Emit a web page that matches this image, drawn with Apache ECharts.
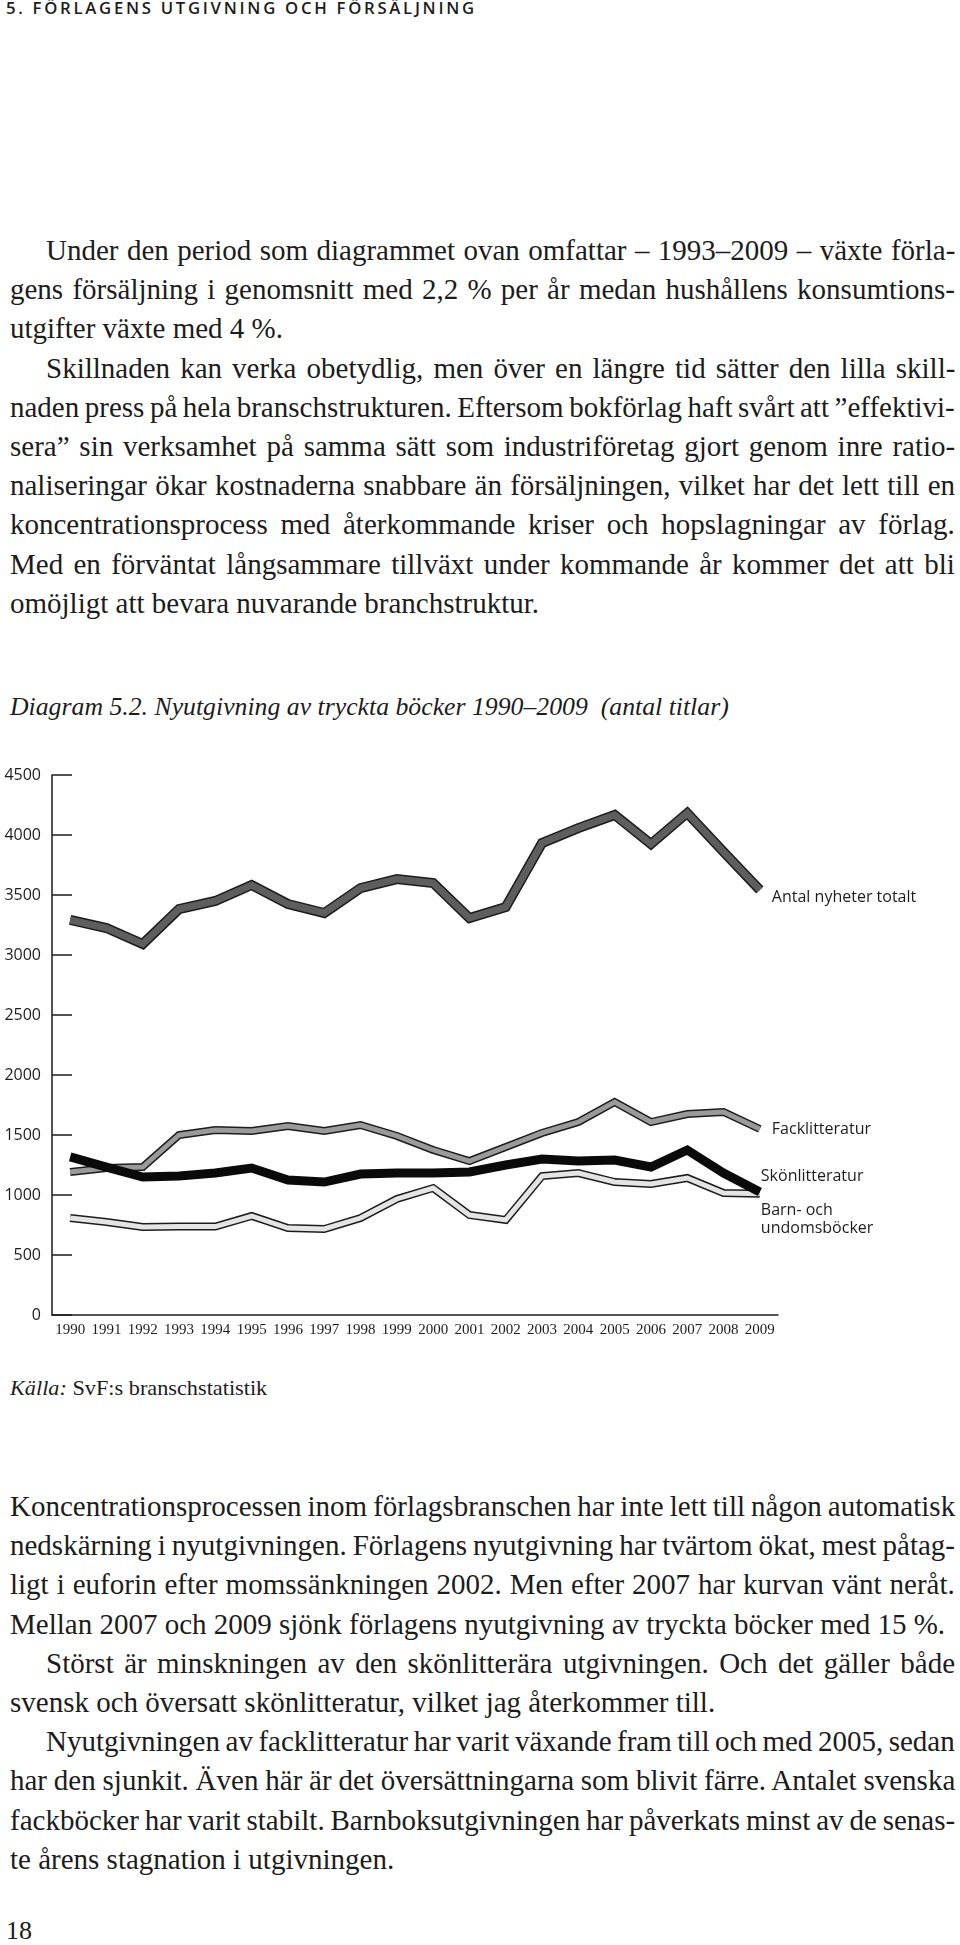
<!DOCTYPE html>
<html>
<head>
<meta charset="utf-8">
<script src="https://cdn.jsdelivr.net/npm/echarts@6/dist/echarts.min.js"></script>
<style>
body { margin: 0; background: #fff; width: 960px; height: 1945px; position: relative; overflow: hidden; font-family: 'Liberation Serif', serif; color: #1c1c1c; }
.ln { position: absolute; white-space: nowrap; font-size: 29px; line-height: 30px; display: inline-block; transform-origin: left top; }
#head { position: absolute; left: 6px; top: -3px; font-family: 'Open Sans', sans-serif; font-weight: 600; font-size: 16px; letter-spacing: 2.6px; white-space: nowrap; }
#cap { position: absolute; left: 10px; top: 692px; font-style: italic; font-size: 26px; white-space: nowrap; transform-origin: left top; }
#src { position: absolute; left: 10px; top: 1375px; font-size: 22px; white-space: nowrap; transform-origin: left top; }
#pg { position: absolute; left: 6px; top: 1916px; font-size: 26px; }
#chart { position: absolute; left: 0; top: 740px; width: 960px; height: 620px; }
</style>
</head>
<body>
<div id="head">5. FÖRLAGENS UTGIVNING OCH FÖRSÄLJNING</div>
<div id="cap">Diagram 5.2. Nyutgivning av tryckta böcker 1990–2009&nbsp; (antal titlar)</div>
<div id="chart"></div>
<div id="src"><i>Källa:</i> SvF:s branschstatistik</div>
<div id="pg">18</div>
<script>
var years = ['1990', '1991', '1992', '1993', '1994', '1995', '1996', '1997', '1998', '1999',
	'2000', '2001', '2002', '2003', '2004', '2005', '2006', '2007', '2008', '2009'];
var totalt = [3292, 3225, 3092, 3383, 3450, 3583, 3425, 3350, 3558, 3633, 3600, 3308, 3400, 3933, 4058, 4167, 3925, 4183, 3860, 3542];
var fack = [1192, 1225, 1233, 1500, 1542, 1533, 1575, 1533, 1583, 1492, 1375, 1283, 1400, 1517, 1608, 1775, 1608, 1675, 1692, 1550];
var skon = [1317, 1233, 1150, 1158, 1183, 1225, 1125, 1108, 1175, 1183, 1183, 1192, 1250, 1300, 1283, 1292, 1233, 1375, 1183, 1025];
var barn = [808, 775, 733, 737, 737, 825, 725, 717, 808, 967, 1058, 833, 792, 1158, 1183, 1108, 1092, 1142, 1017, 1010];
var yTicks = [0, 500, 1000, 1500, 2000, 2500, 3000, 3500, 4000, 4500];

// text lines: [text, indent, justify]
var topText = [
	['Under den period som diagrammet ovan omfattar – 1993–2009 – växte förla-', 1, 1],
	['gens försäljning i genomsnitt med 2,2 % per år medan hushållens konsumtions-', 0, 1],
	['utgifter växte med 4 %.', 0, 0],
	['Skillnaden kan verka obetydlig, men över en längre tid sätter den lilla skill-', 1, 1],
	['naden press på hela branschstrukturen. Eftersom bokförlag haft svårt att ”effektivi-', 0, 1],
	['sera” sin verksamhet på samma sätt som industriföretag gjort genom inre ratio-', 0, 1],
	['naliseringar ökar kostnaderna snabbare än försäljningen, vilket har det lett till en', 0, 1],
	['koncentrationsprocess med återkommande kriser och hopslagningar av förlag.', 0, 1],
	['Med en förväntat långsammare tillväxt under kommande år kommer det att bli', 0, 1],
	['omöjligt att bevara nuvarande branchstruktur.', 0, 0]
];
var bottomText = [
	['Koncentrationsprocessen inom förlagsbranschen har inte lett till någon automatisk', 0, 1],
	['nedskärning i nyutgivningen. Förlagens nyutgivning har tvärtom ökat, mest påtag-', 0, 1],
	['ligt i euforin efter momssänkningen 2002. Men efter 2007 har kurvan vänt neråt.', 0, 1],
	['Mellan 2007 och 2009 sjönk förlagens nyutgivning av tryckta böcker med 15 %.', 0, 0],
	['Störst är minskningen av den skönlitterära utgivningen. Och det gäller både', 1, 1],
	['svensk och översatt skönlitteratur, vilket jag återkommer till.', 0, 0],
	['Nyutgivningen av facklitteratur har varit växande fram till och med 2005, sedan', 1, 1],
	['har den sjunkit. Även här är det översättningarna som blivit färre. Antalet svenska', 0, 1],
	['fackböcker har varit stabilt. Barnboksutgivningen har påverkats minst av de senas-', 0, 1],
	['te årens stagnation i utgivningen.', 0, 0]
];

function putLines(lines, top, pitch) {
	for (var i = 0; i < lines.length; i++) {
		var d = document.createElement('div');
		d.className = 'ln';
		d.textContent = lines[i][0];
		var left = lines[i][1] ? 46 : 10;
		d.style.left = left + 'px';
		d.style.top = (top + i * pitch) + 'px';
		document.body.appendChild(d);
		var target = 955 - left;
		var w = d.offsetWidth;
		var n = lines[i][0].split(' ').length - 1;
		// spaces may shrink a little before the glyphs get squeezed
		var s = Math.min(1, target / (w - n * 2.5));
		if (s < 1) d.style.transform = 'scaleX(' + s + ')';
		if (lines[i][2] && n > 0) {
			d.style.wordSpacing = ((target / s - w) / n) + 'px';
		}
	}
}
putLines(topText, 235, 39.2);
putLines(bottomText, 1491, 39.2);

function fitWidth(id, target) {
	var el = document.getElementById(id);
	el.style.display = 'inline-block';
	el.style.transform = 'scaleX(' + (target / el.offsetWidth) + ')';
	el.style.transformOrigin = 'left top';
}
fitWidth('cap', 719);
fitWidth('src', 257);
fitWidth('head', 471);

var myChart = echarts.init(document.getElementById('chart'));

function outline(name, data, width, color, z) {
	return {
		name: name,
		type: 'line',
		data: data,
		symbol: 'none',
		silent: true,
		z: z,
		lineStyle: { width: width, color: color, join: 'miter', miterLimit: 6, cap: 'butt' }
	};
}

var labelFont = { fontFamily: 'Open Sans', fontSize: 16, color: '#1c1c1c' };

var s1 = outline('barn_kant', barn, 8, '#1c1c1c', 2);
var s2 = outline('Barn- och undomsböcker', barn, 5, '#e4e4e4', 3);
s2.endLabel = Object.assign({ show: true, formatter: 'Barn- och\nundomsböcker', distance: 0, offset: [1, 26], lineHeight: 18 }, labelFont);
var s3 = outline('fack_kant', fack, 8, '#1c1c1c', 4);
var s4 = outline('Facklitteratur', fack, 5, '#9a9a9a', 5);
s4.endLabel = Object.assign({ show: true, formatter: 'Facklitteratur', distance: 0, offset: [12, 0] }, labelFont);
var s5 = outline('Skönlitteratur', skon, 9, '#0a0a0a', 6);
s5.endLabel = Object.assign({ show: true, formatter: 'Skönlitteratur', distance: 0, offset: [1, -16] }, labelFont);
var s6 = outline('totalt_kant', totalt, 10, '#1c1c1c', 7);
var s7 = outline('Antal nyheter totalt', totalt, 7, '#5e5e5e', 8);
s7.endLabel = Object.assign({ show: true, formatter: 'Antal nyheter totalt', distance: 0, offset: [12, 7] }, labelFont);

option = {
	animation: false,
	grid: { left: 52, right: 182, top: 35, bottom: 45 },
	xAxis: {
		type: 'category',
		data: years,
		boundaryGap: true,
		axisLine: { lineStyle: { color: '#1c1c1c', width: 1.5 } },
		axisTick: { inside: true, length: 13, lineStyle: { color: '#1c1c1c', width: 1.5 } },
		axisLabel: { margin: 8, fontFamily: 'Liberation Sans Narrow', fontSize: 15, color: '#1c1c1c', interval: 0 }
	},
	yAxis: {
		type: 'value',
		min: yTicks[0],
		max: yTicks[yTicks.length - 1],
		interval: 500,
		splitLine: { show: false },
		axisLine: { show: true, lineStyle: { color: '#1c1c1c', width: 1.5 } },
		axisTick: { show: true, inside: true, length: 20, lineStyle: { color: '#1c1c1c', width: 1.5 } },
		axisLabel: {
			margin: 11, fontFamily: 'Open Sans', fontSize: 16, color: '#1c1c1c',
			formatter: function(v) { return String(v); }
		}
	},
	series: [s1, s2, s3, s4, s5, s6, s7]
};
myChart.setOption(option);
</script>
</body>
</html>
